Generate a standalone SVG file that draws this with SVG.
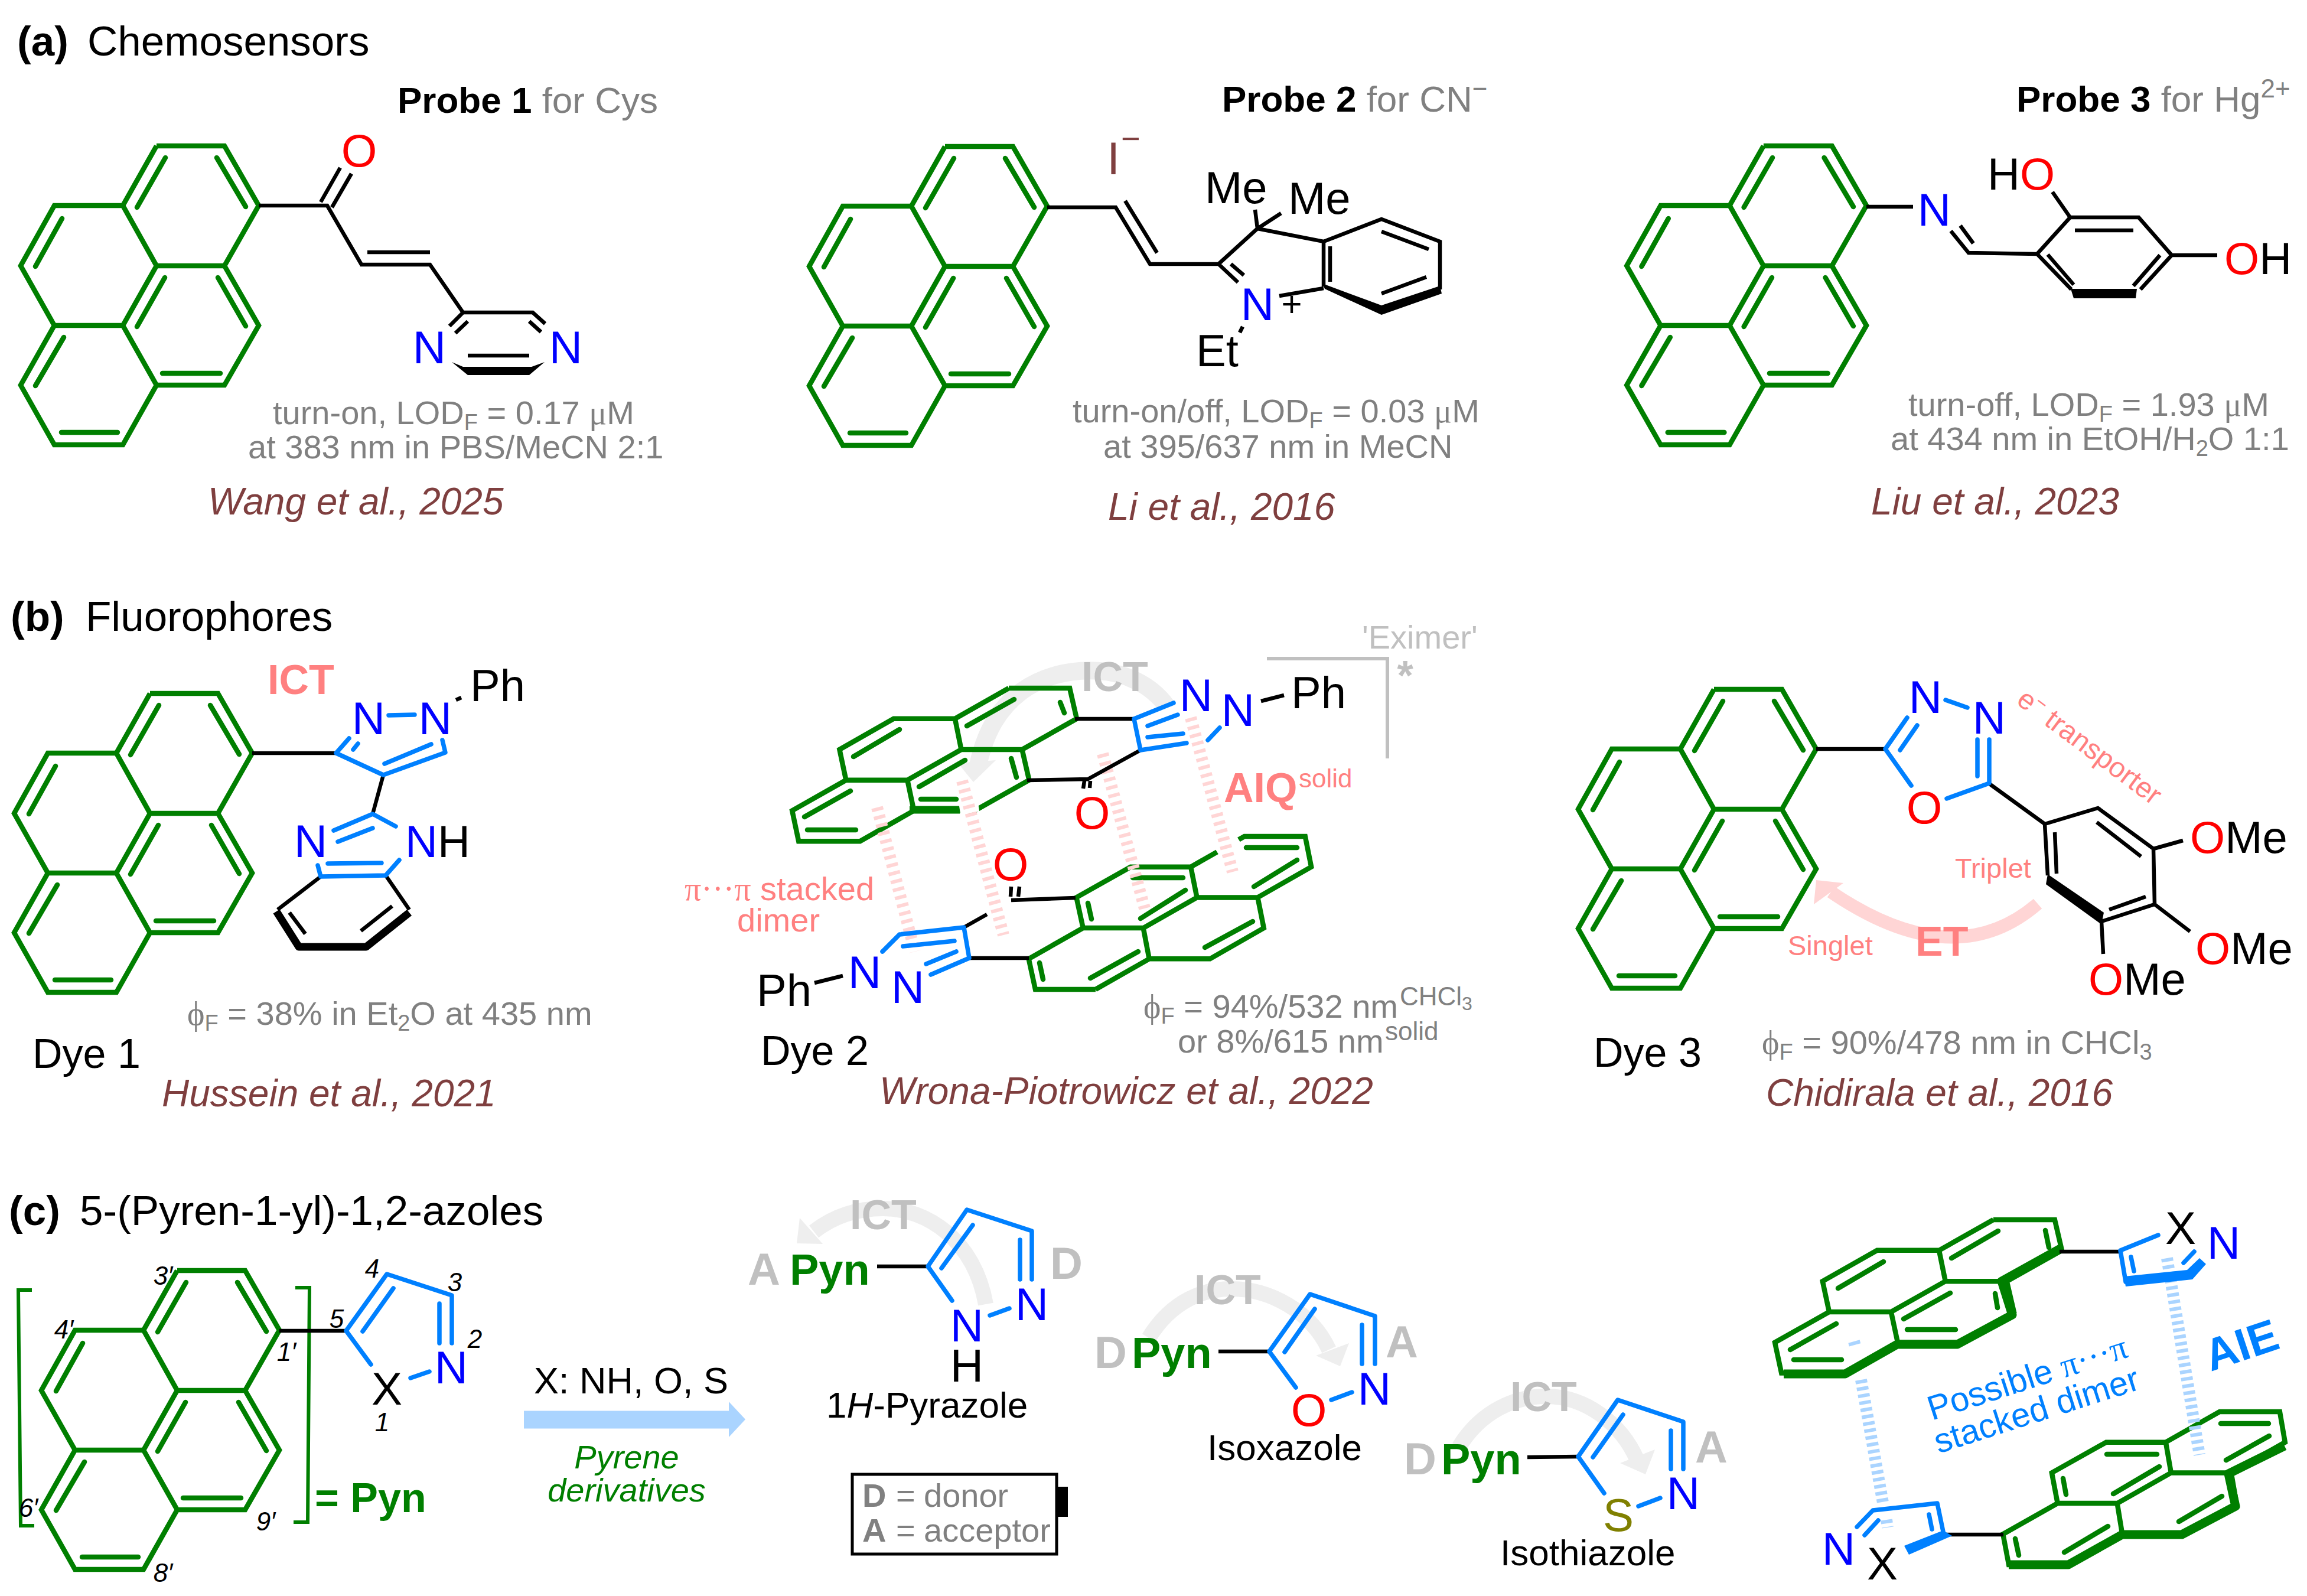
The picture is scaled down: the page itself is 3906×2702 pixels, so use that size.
<svg xmlns="http://www.w3.org/2000/svg" xmlns:xlink="http://www.w3.org/1999/xlink" width="3906" height="2702" viewBox="0 0 3906 2702">
<style>
text{font-family:"Liberation Sans",Arial,sans-serif;fill:#000}
.h{font-size:71px}.hb{font-size:71px;font-weight:bold}
.pt{font-size:62px;font-weight:bold}.gy{fill:#808080;font-weight:normal}
.i{font-size:56px;fill:#808080}.sm{font-size:38px}
.sup{font-size:44px}
.cit{font-size:64px;font-style:italic;fill:#7F3F3F}
.a{font-size:78px;text-anchor:middle}.al{font-size:76px}
.N{fill:#00f}.O{fill:#f00}.S{fill:#808000}
.lab{font-size:70px}.sy{font-family:"Liberation Serif",serif}
.ict{font-size:70px;font-weight:bold;fill:#C0C0C0}
.pk{fill:#FF8080}.pkb{fill:#FF8080;font-weight:bold;font-size:70px}
.pos{font-size:44px;font-style:italic;text-anchor:middle}
.pyn{font-size:74px;font-weight:bold;fill:#007F00}
.da{font-size:76px;font-weight:bold;fill:#C0C0C0}
.nm{font-size:62px}
.pb{fill:#0080FF;font-size:58px}
path,polyline{fill:none}
.g{stroke:#007F00;stroke-width:8.5;stroke-linejoin:miter;vector-effect:non-scaling-stroke}
.gi{stroke:#007F00;stroke-width:8.5;stroke-linecap:round;vector-effect:non-scaling-stroke}
.gt{stroke:#007F00;stroke-width:15;stroke-linejoin:round}
.k{stroke:#000;stroke-width:6.5}
.kt{stroke:#000;stroke-width:13;stroke-linejoin:round}
.b{stroke:#0080FF;stroke-width:7.5;stroke-linecap:round;stroke-linejoin:round}
.wg{stroke:#fff;stroke-width:16}
.ps{stroke:#FFD5D5;stroke-width:20;stroke-dasharray:6 8}
.bs{stroke:#AAD4FF;stroke-width:20;stroke-dasharray:6 6}
.arc{stroke:#EEEEEE;stroke-width:26}
.head{fill:#EEEEEE;stroke:none}
.brk{stroke:#007F00;stroke-width:6}
.fk{fill:#000;stroke:none}.fb{fill:#0080FF;stroke:none}
</style>
<defs>
<path id="pyo" class="g" d="M265,247H380L438,348L380,450H265L208,348L265,247M208,348H92L35,450L92,551H208L265,450M380,450L438,551L380,652H265L208,551M265,652L208,753H92L35,652L92,551"/>
<g id="pyr">
<use href="#pyo"/>
<path class="gi" d="M280,267L232,351M367,267L416,350M105,370L60,451M279,470L232,553M369,470L416,552M275,632H373M108,571L60,653M104,732H199"/>
</g>
</defs>

<g id="connectors">
<path class="arc" d="M1975,1195C1920,1120 1800,1120 1730,1170C1690,1200 1668,1240 1656,1295" style="stroke-width:30"/>
<polygon class="head" points="1622,1292 1686,1287 1648,1324"/>
<path d="M3450,1530Q3309,1652 3100,1510" style="stroke:#FFD5D5;stroke-width:22"/>
<polygon points="3075,1490 3071,1531 3121,1495" style="fill:#FFD5D5"/>
<path id="arrow-main" d="M887,2403.500H1234" style="stroke:#AAD4FF;stroke-width:30"/>
<polygon points="1234,2373 1262,2403 1234,2433" style="fill:#AAD4FF"/>
<path class="arc" d="M1669,2208C1650,2100 1570,2046 1495,2046C1450,2046 1410,2060 1378,2085"/>
<polygon class="head" points="1354,2062 1349,2105 1393,2106"/>
<path class="arc" d="M1945,2265C1985,2200 2040,2182 2085,2182C2150,2182 2220,2220 2250,2285"/>
<polygon class="head" points="2284,2274 2269,2313 2228,2295"/>
<path class="arc" d="M2470,2450C2510,2385 2570,2364 2618,2364C2685,2364 2745,2410 2772,2472"/>
<polygon class="head" points="2802,2454 2786,2496 2743,2477"/>
</g>

<g id="section-headers">
<text x="29" y="94" class="hb">(a)</text><text x="148" y="94" class="h">Chemosensors</text>
<text x="18" y="1068" class="hb">(b)</text><text x="145" y="1068" class="h">Fluorophores</text>
<text x="15" y="2074" class="hb">(c)</text><text x="135" y="2074" class="h">5-(Pyren-1-yl)-1,2-azoles</text>
</g>

<g id="probe1">
<use href="#pyr"/>
<path class="k" d="M438,348H554L612,448H728L784,529H902L923,548M543,342L576,284M562,351L595,294M622,427H728M784,529L761,552M792,544L771,564M896,544L916,562M792,602H896"/>
<polygon class="fk" points="765,613 792,635 896,635 922,613 900,621 784,621"/>
<text x="608" y="282" class="a O">O</text><text x="727" y="615" class="a N">N</text><text x="958" y="615" class="a N">N</text>
<text x="673" y="191" class="pt">Probe 1 <tspan class="gy">for Cys</tspan></text>
<text x="462" y="718" class="i">turn-on, LOD<tspan class="sm" dy="10">F</tspan><tspan dy="-10"> = 0.17 </tspan><tspan class="sy">μ</tspan>M</text>
<text x="420" y="776" class="i">at 383 nm in PBS/MeCN 2:1</text>
<text x="352" y="871" class="cit">Wang et al., 2025</text>
</g>

<g id="probe2">
<use href="#pyr" transform="translate(1335,1)"/>
<path class="k" d="M1773,351H1889L1947,447H2063L2096,478M1905,340L1959,428M2084,447L2106,466M2063,447L2129,387L2125,355M2129,387L2169,361M2129,387L2241,409L2339,371L2438,409V490M2241,409V485M2252,417V477M2339,392L2419,422M2339,497L2415,469M2166,501L2241,488M2104,553L2099,563"/>
<polygon class="fk" points="2239,480 2339,517 2438,484 2441,497 2339,533 2243,489"/>
<text x="1885" y="295" class="a" style="fill:#7F3F3F">I</text><text x="1898" y="254" style="font-size:56px;fill:#7F3F3F">−</text>
<text x="2040" y="344" class="al">Me</text><text x="2181" y="362" class="al">Me</text>
<text x="2129" y="542" class="a N">N</text><text x="2187" y="535" style="font-size:60px;text-anchor:middle">+</text>
<text x="2025" y="620" class="al">Et</text>
<text x="2069" y="189" class="pt">Probe 2 <tspan class="gy">for CN</tspan><tspan class="gy sup" dy="-24">−</tspan></text>
<text x="1816" y="715" class="i">turn-on/off, LOD<tspan class="sm" dy="10">F</tspan><tspan dy="-10"> = 0.03 </tspan><tspan class="sy">μ</tspan>M</text>
<text x="1868" y="775" class="i">at 395/637 nm in MeCN</text>
<text x="1876" y="880" class="cit">Li et al., 2016</text>
</g>

<g id="probe3">
<use href="#pyr" transform="translate(2719,0) scale(1.007,1)"/>
<path class="k" d="M3160,350H3239M3303,391L3333,428L3449,430L3505,368H3621L3677,432L3624,490M3319,382L3341,412M3449,430L3507,490M3513,390H3612M3657,432L3612,484M3467,431L3511,482M3505,368L3475,325M3677,432H3754"/>
<polygon class="fk" points="3506,489 3618,489 3616,505 3511,505"/>
<text x="3275" y="382" class="a N">N</text>
<text x="3365" y="321" class="al">H<tspan class="O">O</tspan></text>
<text x="3766" y="464" class="al"><tspan class="O">O</tspan>H</text>
<text x="3414" y="189" class="pt">Probe 3 <tspan class="gy">for Hg</tspan><tspan class="gy sup" dy="-24">2+</tspan></text>
<text x="3231" y="704" class="i">turn-off, LOD<tspan class="sm" dy="10">F</tspan><tspan dy="-10"> = 1.93 </tspan><tspan class="sy">μ</tspan>M</text>
<text x="3201" y="762" class="i">at 434 nm in EtOH/H<tspan class="sm" dy="10">2</tspan><tspan dy="-10">O 1:1</tspan></text>
<text x="3168" y="871" class="cit">Liu et al., 2023</text>
</g>

<g id="dye1">
<use href="#pyr" transform="translate(-11,927)"/>
<path class="k" d="M427,1275H569M649,1312L631,1378M543,1484L470,1540M653,1482L693,1540M490,1545L517,1581M611,1576L664,1534"/>
<path class="kt" d="M468,1543L506,1603H620L693,1545"/>
<path class="b" d="M591,1250L569,1275L649,1312L754,1274L749,1253M598,1269L606,1259M651,1293L730,1260M658,1211L702,1210M670,1399L631,1378L565,1406M631,1402L572,1425M538,1465L543,1484L653,1482L676,1456M555,1462L646,1461"/>
<path class="k" d="M772,1185L781,1181"/>
<text x="453" y="1175" class="pkb">ICT</text>
<text x="624" y="1243" class="a N">N</text><text x="737" y="1243" class="a N">N</text>
<text x="796" y="1187" class="al">Ph</text>
<text x="526" y="1451" class="a N">N</text><text x="686" y="1451" class="al"><tspan class="N">N</tspan>H</text>
<text x="317" y="1735" class="i"><tspan class="sy">ϕ</tspan><tspan class="sm" dy="10">F</tspan><tspan dy="-10"> = 38% in Et</tspan><tspan class="sm" dy="10">2</tspan><tspan dy="-10">O at 435 nm</tspan></text>
<text x="55" y="1808" class="lab">Dye 1</text>
<text x="274" y="1873" class="cit">Hussein et al., 2021</text>
</g>

<g id="dye2">
<use href="#pyo" transform="matrix(0.896,0,-0.397,0.512,1568.7,1038.6)"/>
<use href="#pyo" transform="matrix(-0.887,0,0.398,-0.512,1991.7,1801.5)"/>
<path class="gi" d="M1717,1184L1637,1229M1795,1189L1802,1207M1523,1235L1445,1281M1634,1287L1556,1332M1712,1284L1721,1316M1559,1353H1619M1440,1339L1362,1383M1367,1405H1449M1846,1656L1927,1611M1760,1630L1766,1658M2040,1604L2121,1560M1931,1555L2007,1507M1842,1529L1848,1556M1918,1486H2003M2123,1501L2196,1456M2110,1435H2196"/>
<path class="g" d="M1540,1371H1625" style="stroke-width:13"/>
<path class="wg" d="M1625,1371L1657,1366M2061,1443L2097,1421"/>
<path class="ps" d="M1485,1367L1549,1611M1629,1322L1699,1583M1867,1276L1938,1538M2016,1215L2087,1476"/>
<path class="k" d="M1820,1217H1920M1931,1270L1842,1319L1739,1321M1836,1322L1834,1335M1846,1322L1845,1334M2135,1187L2174,1177M1641,1622H1742M1632,1570L1671,1548M1712,1524L1821,1520M1711,1518L1712,1501M1724,1518L1726,1501M1427,1652L1379,1664"/>
<path class="b" d="M1987,1190L1920,1217L1931,1270L2009,1258M1943,1229L1994,1210M1943,1248L2003,1242M2045,1253L2065,1232M1576,1650L1641,1622L1632,1570L1523,1582L1494,1611M1619,1611L1568,1632M1616,1593L1529,1602"/>
<text x="2025" y="1204" class="a N">N</text><text x="2096" y="1229" class="a N">N</text><text x="2186" y="1199" class="al">Ph</text>
<text x="1849" y="1403" class="a O">O</text><text x="1711" y="1490" class="a O">O</text>
<text x="1464" y="1673" class="a N">N</text><text x="1537" y="1698" class="a N">N</text><text x="1281" y="1703" class="al">Ph</text>
<text x="1159" y="1524" class="i pk"><tspan class="sy">π···π</tspan> stacked</text>
<text x="1248" y="1577" class="i pk">dimer</text>
<text x="1288" y="1803" class="lab">Dye 2</text>
<text x="1489" y="1869" class="cit">Wrona-Piotrowicz et al., 2022</text>
<text x="1936" y="1723" class="i"><tspan class="sy">ϕ</tspan><tspan class="sm" dy="10">F</tspan><tspan dy="-10"> = 94%/532 nm</tspan></text>
<text x="2370" y="1702" class="sup" style="fill:#808080">CHCl<tspan dy="8" style="font-size:32px">3</tspan></text>
<text x="1994" y="1782" class="i">or 8%/615 nm</text>
<text x="2345" y="1761" class="sup" style="fill:#808080">solid</text>
<text x="2306" y="1098" class="i" style="fill:#C0C0C0">'Eximer'</text>
<polyline points="2145,1115 2349,1115 2349,1284" style="stroke:#C0C0C0;stroke-width:6"/>
<text x="2379" y="1168" style="font-size:70px;font-weight:bold;fill:#C0C0C0;text-anchor:middle">*</text>
<text x="1831" y="1170" class="ict">ICT</text>
<text x="2072" y="1358" class="pkb">AIQ</text><text x="2199" y="1333" class="sup pk">solid</text>
</g>

<g id="dye3">
<use href="#pyr" transform="translate(2637,920)"/>
<path class="k" d="M3075,1268H3192M3367,1326L3462,1395L3552,1368L3646,1437L3648,1531L3558,1560M3462,1395L3467,1482M3479,1409L3482,1479M3550,1392L3625,1450M3633,1518L3571,1540M3646,1437L3696,1423M3648,1531L3708,1577M3558,1560L3561,1615"/>
<polygon class="fk" points="3467,1480 3562,1545 3558,1565 3464,1497"/>
<path class="b" d="M3229,1215L3192,1268L3236,1330M3217,1270L3246,1228M3294,1185L3331,1198M3348,1252V1314M3368,1252V1326L3296,1352"/>
<text x="3260" y="1207" class="a N">N</text><text x="3368" y="1242" class="a N">N</text><text x="3258" y="1394" class="a O">O</text>
<text x="3708" y="1444" class="al"><tspan class="O">O</tspan>Me</text>
<text x="3717" y="1632" class="al"><tspan class="O">O</tspan>Me</text>
<text x="3536" y="1684" class="al"><tspan class="O">O</tspan>Me</text>
<text transform="translate(3412,1190) rotate(36.8)" style="font-size:48px" class="pk">e<tspan dy="-16" style="font-size:32px">−</tspan><tspan dy="16"> transporter</tspan></text>
<text x="3310" y="1486" style="font-size:47px" class="pk">Triplet</text>
<text x="3027" y="1617" style="font-size:47px" class="pk">Singlet</text>
<text x="3243" y="1618" class="pkb">ET</text>
<text x="2698" y="1806" class="lab">Dye 3</text>
<text x="2983" y="1784" class="i"><tspan class="sy">ϕ</tspan><tspan class="sm" dy="10">F</tspan><tspan dy="-10"> = 90%/478 nm in CHCl</tspan><tspan class="sm" dy="10">3</tspan></text>
<text x="2990" y="1872" class="cit">Chidirala et al., 2016</text>
</g>

<g id="scaffold">
<use href="#pyr" transform="translate(35,1904)"/>
<polyline class="brk" points="54,2184 31,2184 35,2583 58,2583"/>
<polyline class="brk" points="500,2180 524,2180 521,2577 497,2577"/>
<path class="k" d="M473,2253H586"/>
<path class="b" d="M628,2310L586,2253L655,2157L765,2193V2274M614,2254L666,2181M744,2207V2274M695,2333L727,2322"/>
<text x="655" y="2378" class="a">X</text><text x="764" y="2342" class="a N">N</text>
<text x="570" y="2248" class="pos">5</text><text x="630" y="2163" class="pos">4</text><text x="770" y="2186" class="pos">3</text><text x="804" y="2282" class="pos">2</text><text x="647" y="2423" class="pos">1</text>
<text x="276" y="2175" class="pos">3′</text><text x="108" y="2266" class="pos">4′</text><text x="485" y="2304" class="pos">1′</text><text x="48" y="2568" class="pos">6′</text><text x="450" y="2591" class="pos">9′</text><text x="276" y="2678" class="pos">8′</text>
<text x="533" y="2560" style="font-size:70px;font-weight:bold;fill:#007F00">= Pyn</text>
</g>

<g id="reaction-labels">
<text x="904" y="2359" style="font-size:63px">X: NH, O, S</text>
<text x="1061" y="2486" style="font-size:56px;font-style:italic;fill:#007F00;text-anchor:middle">Pyrene</text>
<text x="1061" y="2542" style="font-size:56px;font-style:italic;fill:#007F00;text-anchor:middle">derivatives</text>
</g>

<g id="pyrazole">
<path class="k" d="M1485,2144H1571"/>
<path class="b" d="M1612,2202L1571,2144L1637,2048L1747,2084V2166M1594,2147L1647,2074M1727,2099V2166M1676,2227L1709,2215"/>
<text x="1439" y="2081" class="ict">ICT</text>
<text x="1266" y="2175" class="da">A</text><text x="1337" y="2175" class="pyn">Pyn</text><text x="1778" y="2165" class="da">D</text>
<text x="1637" y="2271" class="a N">N</text><text x="1747" y="2235" class="a N">N</text><text x="1637" y="2339" class="a">H</text>
<text x="1399" y="2400" class="nm">1<tspan font-style="italic">H</tspan>-Pyrazole</text>
</g>

<g id="legend">
<rect x="1443" y="2496" width="346" height="135" style="fill:#fff;stroke:#000;stroke-width:5"/>
<rect x="1791" y="2517" width="17" height="51" style="fill:#000"/>
<text x="1460" y="2551" class="i"><tspan font-weight="bold">D</tspan></text><text x="1517" y="2551" class="i">=</text><text x="1564" y="2551" class="i">donor</text>
<text x="1460" y="2610" class="i"><tspan font-weight="bold">A</tspan></text><text x="1517" y="2610" class="i">=</text><text x="1564" y="2610" class="i">acceptor</text>
</g>

<g id="isoxazole">
<path class="k" d="M2063,2288H2149"/>
<path class="b" d="M2194,2349L2149,2288L2218,2191L2328,2228V2309M2175,2289L2226,2216M2306,2243V2309M2254,2370L2289,2357"/>
<text x="2022" y="2208" class="ict">ICT</text>
<text x="1853" y="2316" class="da">D</text><text x="1916" y="2316" class="pyn">Pyn</text><text x="2346" y="2298" class="da">A</text>
<text x="2216" y="2414" class="a O">O</text><text x="2327" y="2378" class="a N">N</text>
<text x="2044" y="2472" class="nm">Isoxazole</text>
</g>

<g id="isothiazole">
<path class="k" d="M2586,2467L2672,2466"/>
<path class="b" d="M2716,2528L2672,2466L2739,2370L2850,2407V2487M2697,2467L2748,2395M2829,2422V2487M2774,2550L2811,2536"/>
<text x="2557" y="2389" class="ict">ICT</text>
<text x="2377" y="2496" class="da">D</text><text x="2440" y="2496" class="pyn">Pyn</text><text x="2870" y="2476" class="da">A</text>
<text x="2740" y="2592" class="a S">S</text><text x="2850" y="2555" class="a N">N</text>
<text x="2540" y="2650" class="nm">Isothiazole</text>
</g>

<g id="dimer">
<use href="#pyo" transform="matrix(0.904,0,-0.4,0.513,3234.2,1938.3)"/>
<use href="#pyo" transform="matrix(-0.878,0,0.407,-0.512,3634.2,2775.5)"/>
<path class="gi" d="M3304,2130L3383,2084M3463,2083L3469,2112M3112,2181L3189,2136M3223,2233L3302,2189M3378,2190L3382,2214M3229,2251H3311M3031,2285L3109,2241M3037,2302H3118M3495,2628L3569,2584M3412,2605L3418,2633M3689,2576L3762,2533M3578,2529L3656,2483M3493,2503L3498,2530M3567,2462H3652M3769,2472L3842,2431M3760,2410H3841"/>
<path class="gt" d="M3020,2326H3124L3212,2276H3314L3407,2226L3389,2169L3488,2114"/>
<path class="gt" d="M3401,2649H3502L3593,2598H3694L3785,2550L3773,2495L3868,2448"/>
<path class="bs" d="M3151,2336L3188,2544M3139,2271L3142,2282M3194,2573L3196,2586M3669,2130L3724,2463"/>
<path class="k" d="M3487,2119H3587M3295,2598H3392"/>
<path class="b" d="M3654,2091L3590,2117L3599,2170M3608,2128L3613,2152M3697,2138L3715,2119M3144,2585L3171,2557L3280,2545L3290,2593M3180,2574L3157,2599M3266,2564L3271,2589"/>
<polygon class="fb" points="3596,2161 3703,2150 3724,2130 3735,2140 3712,2166 3599,2178"/>
<polygon class="fb" points="3290,2591 3305,2600 3232,2632 3224,2617"/>
<text x="3692" y="2106" class="a">X</text><text x="3765" y="2131" class="a N">N</text>
<text x="3113" y="2649" class="a N">N</text><text x="3187" y="2674" class="a">X</text>
<text transform="translate(3271,2405) rotate(-17.9)" class="pb">Possible <tspan class="sy">π···π</tspan></text>
<text transform="translate(3282,2461) rotate(-17.7)" class="pb">stacked dimer</text>
<text transform="translate(3743,2322) rotate(-18.5)" style="font-size:76px;font-weight:bold;fill:#0080FF">AIE</text>
</g>
</svg>
